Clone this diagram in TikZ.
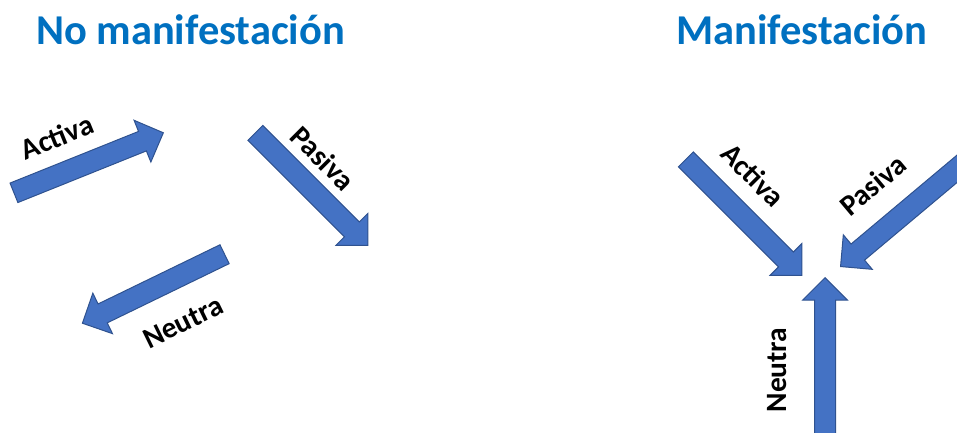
\documentclass[tikz,border=0pt]{standalone}
\usepackage{fontspec}
\setmainfont{Carlito}
\usepackage{tikz}
\usetikzlibrary{shapes.arrows,positioning}
\definecolor{TituloAzul}{RGB}{0,112,192}
\definecolor{FlechaAzul}{RGB}{68,114,196}
\definecolor{BordeAzul}{RGB}{47,82,143}

\begin{document}
\begin{tikzpicture}[x=1pt,y=1pt]
  \tikzset{FlechaStyle/.style = {single arrow, draw = BordeAzul, fill = FlechaAzul, line width = 1pt, inner xsep = 0pt, inner ysep = 10pt, single arrow head extend = 12pt, single arrow tip angle = 90}};
  \tikzset{TituloStyle/.style = {text = TituloAzul, font = \fontsize{42.5}{46}\selectfont\bfseries, anchor = base, inner sep = 0pt}};
  \tikzset{EtiquetaStyle/.style = {text = black, font = \fontsize{29.5}{32}\selectfont\bfseries, inner sep = 0pt}};

  \path[use as bounding box] (0,0) rectangle (957,432);
  \clip (0,0) rectangle (957,432);

  \node[TituloStyle] (no manifestacion) at (190.5,387) {No manifestación};
  \node[TituloStyle] (manifestacion) at (802,387) {Manifestación};

  % no manifestacion
  \node[FlechaStyle, anchor = tail, rotate = 21.9, minimum height = 161pt] (activa no) at (13.5,239) {};
  \node[FlechaStyle, anchor = tail, rotate = -45, minimum height = 159pt] (pasiva no) at (255,299.5) {};
  \node[FlechaStyle, anchor = tail, rotate = 205.9, minimum height = 158pt] (neutra no) at (225,178) {};
  \node[EtiquetaStyle, rotate = 22] (label activa no) at (57,295) {Activa};
  \node[EtiquetaStyle, rotate = -45] (label pasiva no) at (323,274) {Pasiva};
  \node[EtiquetaStyle, rotate = 26] (label neutra no) at (183,110) {Neutra};

  % manifestacion
  \node[FlechaStyle, anchor = tail, rotate = -45, minimum height = 164pt] (activa si) at (685.5,273) {};
  \node[FlechaStyle, anchor = tip, rotate = 220, minimum height = 200pt] (pasiva si) at (840,165) {};
  \node[FlechaStyle, anchor = tip, rotate = 90, minimum height = 180pt] (neutra si) at (825,155) {};
  \node[EtiquetaStyle, rotate = -45] (label activa si) at (753,257) {Activa};
  \node[EtiquetaStyle, rotate = 40] (label pasiva si) at (873,247) {Pasiva};
  \node[EtiquetaStyle, rotate = 90] (label neutra si) at (777,62) {Neutra};
\end{tikzpicture}
\end{document}
